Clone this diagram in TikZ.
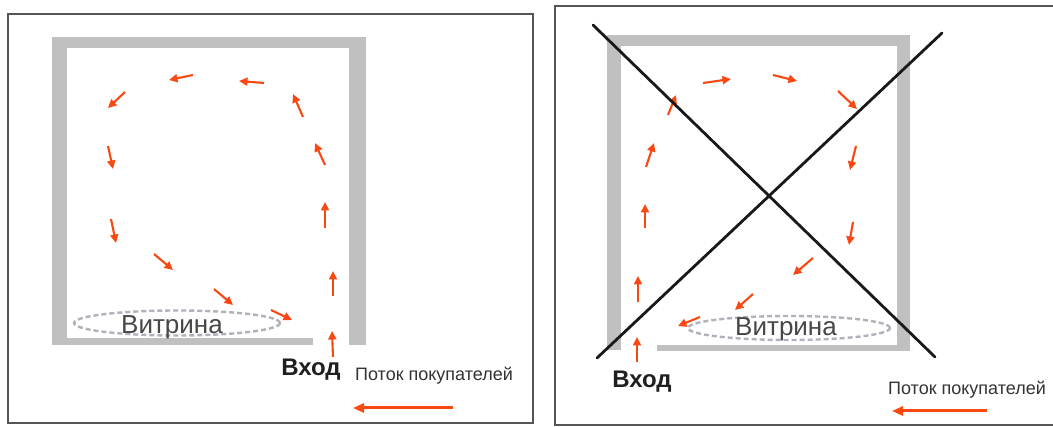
\documentclass[tikz,border=0pt]{standalone}
\usepackage{fontspec}
\setmainfont{Liberation Sans}
\usetikzlibrary{arrows.meta,shapes.geometric}
\definecolor{flow}{RGB}{250,72,18}
\definecolor{wall}{RGB}{192,192,192}
\definecolor{framegray}{RGB}{85,85,85}
\definecolor{ovalgray}{RGB}{175,178,185}
\begin{document}
\begin{tikzpicture}[x=1pt,y=-1pt,
  flowarrow/.style={draw=flow, line width=2.1pt, -{Triangle[length=8.5pt,width=8pt]}},
  legendarrow/.style={draw=flow, line width=3pt, -{Triangle[length=11pt,width=9pt]}},
  wallpart/.style={fill=wall, draw=none},
  panel/.style={draw=framegray, line width=1.5pt},
  vitrinaoval/.style={ellipse, draw=ovalgray, line width=2.4pt, dash pattern=on 5pt off 3pt, inner sep=0pt},
  crossline/.style={draw=black!90, line width=2.8pt, line cap=round},
  vitrinatext/.style={inner sep=0pt, text=black!72, font=\fontsize{26}{30}\selectfont},
  entrytext/.style={inner sep=0pt, text=black!88, font=\bfseries\fontsize{24}{28}\selectfont},
  flowtext/.style={inner sep=0pt, text=black!80, font=\fontsize{18}{21}\selectfont}
]
\useasboundingbox (0,0) rectangle (1053,427);
\fill[white] (0,0) rectangle (1053,427);

% frames
\draw[panel] (8,14) rectangle (533,423);
\draw[panel] (555,6) rectangle (1062,425);

% left walls
\fill[wallpart] (52,37) rectangle (366,48);
\fill[wallpart] (52,37) rectangle (67,345);
\fill[wallpart] (349,37) rectangle (366,345);
\fill[wallpart] (52,338) rectangle (313,345);

% right walls
\fill[wallpart] (607,35) rectangle (910,46);
\fill[wallpart] (607,35) rectangle (621,350);
\fill[wallpart] (897,35) rectangle (910,351);
\fill[wallpart] (657,345) rectangle (910,351);

% vitrinas
\node[vitrinaoval, minimum width=206pt, minimum height=25pt] (ovalL) at (177,323) {};
\node[vitrinatext] (vitL) at (172,327) {Витрина};
\node[vitrinaoval, minimum width=202pt, minimum height=24pt] (ovalR) at (789,328) {};
\node[vitrinatext] (vitR) at (786,329) {Витрина};

% left flow arrows
\foreach \i/\tx/\ty/\hx/\hy in {
  1/125/92/108/108, 2/193/75/169/80, 3/264/83/239/81, 4/303/117/293/94,
  5/325/165/315/143, 6/325/228/325/202, 7/333/296/333/271, 8/333/357/332/331,
  9/108/146/113/169, 10/111/219/116/243, 11/154/254/173/270, 12/214/289/233/305,
  13/271/310/292/320}{
  \coordinate (lt\i) at (\tx,\ty);
  \coordinate (lh\i) at (\hx,\hy);
  \draw[flowarrow] (lt\i) -- (lh\i);
}

% right flow arrows
\foreach \i/\tx/\ty/\hx/\hy in {
  1/668/115/676/95, 2/703/83/731/79, 3/773/75/797/81, 4/838/91/857/109,
  5/856/146/850/170, 6/853/222/849/245, 7/813/258/793/275, 8/753/294/735/310,
  9/700/317/678/326, 10/637/362/637/337, 11/638/302/638/276, 12/645/228/645/204,
  13/646/167/654/143}{
  \coordinate (rt\i) at (\tx,\ty);
  \coordinate (rh\i) at (\hx,\hy);
  \draw[flowarrow] (rt\i) -- (rh\i);
}

% cross
\coordinate (xa1) at (593,25);
\coordinate (xa2) at (935,357);
\coordinate (xb1) at (597,358);
\coordinate (xb2) at (942,33);
\draw[crossline] (xa1) -- (xa2);
\draw[crossline] (xb1) -- (xb2);

% labels
\node[entrytext] (entL) at (311,370) {Вход};
\node[flowtext] (flowL) at (434,376) {Поток покупателей};
\node[entrytext] (entR) at (642,382) {Вход};
\node[flowtext] (flowR) at (967,390) {Поток покупателей};

% legend arrows
\coordinate (legLt) at (453,408);
\coordinate (legLh) at (353,408);
\draw[legendarrow] (legLt) -- (legLh);
\coordinate (legRt) at (987,411);
\coordinate (legRh) at (892,411);
\draw[legendarrow] (legRt) -- (legRh);
\end{tikzpicture}
\end{document}
